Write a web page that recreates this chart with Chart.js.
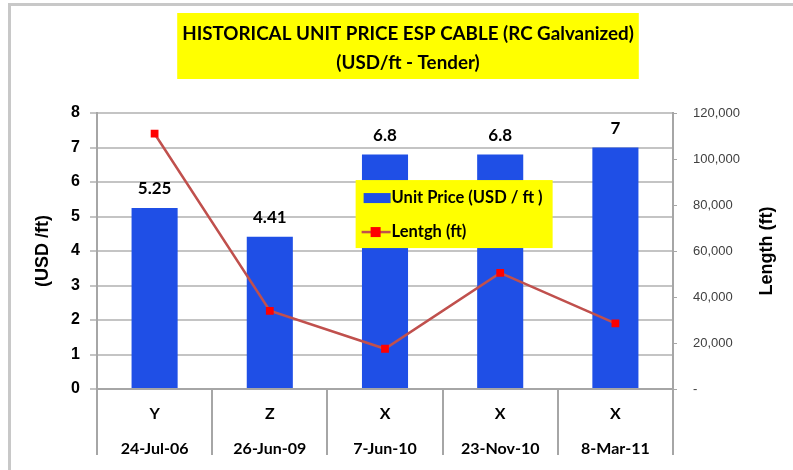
<!DOCTYPE html>
<html>
<head>
<meta charset="utf-8">
<script src="https://cdn.jsdelivr.net/npm/chart.js@4.4.1/dist/chart.umd.min.js"></script>
<style>
  html, body { margin: 0; padding: 0; background: #fff; overflow: hidden; }
  #wrap { position: relative; width: 793px; height: 470px; }
  #frame { position: absolute; left: 8px; top: 3px; width: 800px; height: 480px;
           border-left: 3px solid #c8c8c8; border-top: 3px solid #c8c8c8; pointer-events: none; }
</style>
</head>
<body>
<div id="wrap">
  <canvas id="chart" width="793" height="470"></canvas>
  <div id="frame"></div>
</div>
<script>
// ========= Data =========
const categories = ["Y", "Z", "X", "X", "X"];
const dates = ["24-Jul-06", "26-Jun-09", "7-Jun-10", "23-Nov-10", "8-Mar-11"];
const unitPrice = [5.25, 4.41, 6.8, 6.8, 7];
const lengthFt = [111000, 34000, 17500, 50500, 28500];
const titleLines = ["HISTORICAL UNIT PRICE ESP CABLE (RC Galvanized)", "(USD/ft - Tender)"];
const seriesNames = ["Unit Price (USD / ft )", "Lentgh (ft)"];

const BLUE = "#1f4fe6";
const LINE_RED = "#c0504d";
const MARK_RED = "#ff0000";
const YELLOW = "#ffff00";
const CALIBRI = "Lato, 'Open Sans', sans-serif";
const ARIAL = "'Liberation Sans', Arial, sans-serif";

/* ========= Decorations: title box, bar labels, legend, right title ========= */
const decor = {
  id: "decor",
  afterDatasetsDraw(chart) {
    const ctx = chart.ctx;
    const ca = chart.chartArea;

    // value labels above the bars
    const bars = chart.getDatasetMeta(0).data;
    ctx.save();
    ctx.font = `bold 17px ${CALIBRI}`;
    ctx.fillStyle = "#000";
    ctx.textAlign = "center";
    ctx.textBaseline = "middle";
    bars.forEach((b, i) => ctx.fillText(String(unitPrice[i]), b.x, b.y - 19));
    ctx.restore();

    // legend box inside the plot
    const w = ca.right - ca.left, h = ca.bottom - ca.top;
    const lx = ca.left + w * 0.449, ly = ca.top + h * 0.243;
    ctx.save();
    ctx.fillStyle = YELLOW;
    ctx.fillRect(lx, ly, 197, 68);
    ctx.fillStyle = BLUE;
    ctx.fillRect(lx + 8, ly + 13, 27, 10);
    ctx.strokeStyle = LINE_RED;
    ctx.lineWidth = 2.5;
    ctx.beginPath();
    ctx.moveTo(lx + 6, ly + 52);
    ctx.lineTo(lx + 35, ly + 52);
    ctx.stroke();
    ctx.fillStyle = MARK_RED;
    ctx.fillRect(lx + 15, ly + 47, 10, 10);
    ctx.fillStyle = "#000";
    ctx.font = `bold 16.5px ${CALIBRI}`;
    ctx.textBaseline = "middle";
    ctx.textAlign = "left";
    ctx.fillText(seriesNames[0], lx + 36, ly + 18);
    ctx.fillText(seriesNames[1], lx + 36, ly + 52);
    ctx.restore();
  },
  afterDraw(chart) {
    const ctx = chart.ctx;
    const ca = chart.chartArea;

    // title in a yellow box
    ctx.save();
    ctx.font = `bold 18.8px ${CALIBRI}`;
    const tw = Math.max(...titleLines.map(t => ctx.measureText(t).width));
    const cx = 408;
    ctx.fillStyle = YELLOW;
    ctx.fillRect(cx - tw / 2 - 5, 13, tw + 10, 66);
    ctx.fillStyle = "#000";
    ctx.textAlign = "center";
    ctx.textBaseline = "middle";
    titleLines.forEach((t, i) => ctx.fillText(t, cx, 34 + i * 29));
    ctx.restore();

    // right axis title, reading bottom to top
    ctx.save();
    ctx.translate(767, (ca.top + ca.bottom) / 2);
    ctx.rotate(-Math.PI / 2);
    ctx.font = `bold 18px ${ARIAL}`;
    ctx.fillStyle = "#000";
    ctx.textAlign = "center";
    ctx.textBaseline = "middle";
    ctx.fillText("Length (ft)", 0, 0);
    ctx.restore();
  }
};

/* ========= Chart ========= */
new Chart(document.getElementById("chart"), {
  type: "bar",
  data: {
    labels: categories.map((c, i) => [c, dates[i]]),
    datasets: [
      {
        type: "bar",
        label: seriesNames[0],
        data: unitPrice,
        backgroundColor: BLUE,
        yAxisID: "y",
        order: 2,
        barPercentage: 0.4,
        categoryPercentage: 1.0
      },
      {
        type: "line",
        label: seriesNames[1],
        data: lengthFt,
        borderColor: LINE_RED,
        borderWidth: 2.5,
        pointStyle: "rect",
        pointRadius: 5.5,
        pointBackgroundColor: MARK_RED,
        pointBorderColor: MARK_RED,
        pointBorderWidth: 0,
        tension: 0,
        yAxisID: "y1",
        order: 1
      }
    ]
  },
  options: {
    responsive: false,
    animation: false,
    devicePixelRatio: 1,
    layout: { padding: { top: 113, left: 0, right: 0, bottom: 0 } },
    plugins: { legend: { display: false }, tooltip: { enabled: false } },
    scales: {
      x: {
        grid: { offset: true, drawOnChartArea: false, tickLength: 66, color: "#a6a6a6", lineWidth: 2 },
        border: { display: true, color: "#a6a6a6", width: 2 },
        ticks: {
          font: { family: CALIBRI, size: 16, weight: "bold", lineHeight: 2.2 },
          color: "#000",
          padding: -59,
          maxRotation: 0
        },
        afterFit: (s) => { s.height = 81; }
      },
      y: {
        position: "left",
        min: 0,
        max: 8,
        ticks: { stepSize: 1, font: { family: ARIAL, size: 16, weight: "bold" }, color: "#000", padding: 10 },
        grid: { color: "#c4c4c4", lineWidth: 2, tickLength: 7 },
        border: { display: true, color: "#a6a6a6", width: 2 },
        title: {
          display: true,
          text: "(USD /ft)",
          font: { family: ARIAL, size: 18, weight: "bold" },
          color: "#000",
          padding: { top: 32, bottom: 0 }
        },
        afterFit: (s) => { s.width = 97; }
      },
      y1: {
        position: "right",
        min: 0,
        max: 120000,
        ticks: {
          stepSize: 20000,
          font: { family: ARIAL, size: 13 },
          color: "#404040",
          padding: 16,
          callback: (v) => (v === 0 ? "-" : v.toLocaleString("en-US"))
        },
        grid: { drawOnChartArea: false, tickLength: 4, color: "#a6a6a6", lineWidth: 1 },
        border: { display: true, color: "#a6a6a6", width: 2 },
        afterFit: (s) => { s.width = 120; }
      }
    }
  },
  plugins: [decor]
});
</script>
</body>
</html>
